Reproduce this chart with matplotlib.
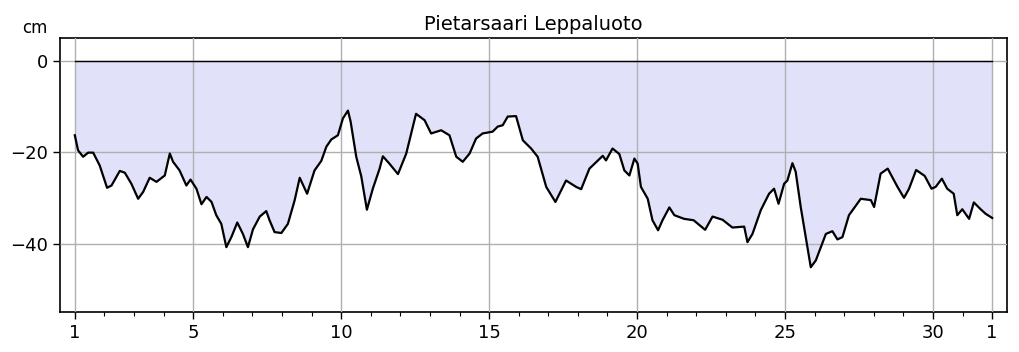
import matplotlib
matplotlib.use("Agg")
import matplotlib.pyplot as plt
from matplotlib.ticker import MultipleLocator

title = "Pietarsaari Leppaluoto"
unit_label = "cm"

# time in days from the start of the month (1 = first day, 32 = first day of next month)
day = [1.00, 1.11, 1.28, 1.45, 1.62, 1.84, 2.09, 2.24, 2.52, 2.69, 2.91, 3.14, 3.31, 3.53,
       3.76, 4.04, 4.21, 4.32, 4.54, 4.77, 4.91, 5.11, 5.28, 5.45, 5.62, 5.78, 5.95, 6.12,
       6.29, 6.49, 6.68, 6.85, 7.02, 7.25, 7.47, 7.58, 7.75, 7.98, 8.20, 8.43, 8.60, 8.85,
       9.10, 9.33, 9.50, 9.67, 9.89, 10.06, 10.23, 10.32, 10.51, 10.68, 10.87, 11.07, 11.30,
       11.41, 11.63, 11.92, 12.20, 12.53, 12.82, 13.04, 13.38, 13.66, 13.89, 14.11, 14.34,
       14.56, 14.78, 15.12, 15.29, 15.46, 15.63, 15.91, 16.14, 16.42, 16.64, 16.93, 17.24,
       17.60, 17.94, 18.11, 18.39, 18.84, 18.95, 19.17, 19.40, 19.57, 19.74, 19.91, 20.02,
       20.13, 20.36, 20.52, 20.71, 20.86, 21.09, 21.26, 21.59, 21.91, 22.30, 22.55, 22.89,
       23.22, 23.62, 23.73, 23.90, 24.18, 24.46, 24.63, 24.78, 24.97, 25.08, 25.25, 25.36,
       25.53, 25.87, 26.04, 26.38, 26.60, 26.77, 26.94, 27.16, 27.56, 27.90, 28.01, 28.23,
       28.47, 28.80, 29.02, 29.19, 29.43, 29.72, 29.95, 30.09, 30.30, 30.48, 30.70, 30.82,
       30.99, 31.22, 31.38, 31.61, 31.78, 32.00]

level_cm = [-16.3, -19.6, -21.0, -20.1, -20.1, -22.9, -27.8, -27.3, -24.1, -24.5, -26.9, -30.2,
            -28.7, -25.6, -26.5, -25.1, -20.3, -22.1, -24.0, -27.3, -26.0, -28.0, -31.4, -29.8,
            -30.9, -33.8, -35.7, -40.8, -38.6, -35.4, -37.9, -40.8, -36.9, -34.1, -32.9, -34.9,
            -37.5, -37.7, -35.7, -30.5, -25.6, -29.1, -24.0, -21.9, -18.8, -17.2, -16.3, -12.6,
            -10.9, -13.3, -21.0, -25.3, -32.6, -28.0, -23.6, -20.9, -22.5, -24.8, -20.3, -11.6,
            -13.0, -15.9, -15.2, -16.3, -21.0, -22.1, -20.3, -17.0, -15.9, -15.5, -14.4, -14.1,
            -12.2, -12.1, -17.4, -19.2, -21.0, -27.6, -30.9, -26.2, -27.6, -28.1, -23.6, -20.8,
            -21.8, -19.2, -20.4, -24.0, -25.1, -21.4, -22.5, -27.6, -30.2, -34.9, -37.1, -34.9,
            -32.1, -33.8, -34.6, -34.9, -37.0, -34.1, -34.8, -36.5, -36.3, -39.7, -37.9, -32.7,
            -29.1, -28.0, -31.3, -26.9, -26.2, -22.4, -24.3, -32.0, -45.2, -43.7, -37.9, -37.3,
            -39.1, -38.6, -33.8, -30.2, -30.5, -32.0, -24.7, -23.6, -27.6, -30.0, -28.0, -23.9,
            -25.2, -28.0, -27.6, -25.8, -28.0, -29.1, -33.8, -32.5, -34.6, -31.0, -32.5, -33.5,
            -34.4]

x_major = [1, 5, 10, 15, 20, 25, 30, 32]
x_labels = ["1", "5", "10", "15", "20", "25", "30", "1"]
y_major = [0, -20, -40]

fig = plt.figure(figsize=(10.19, 3.52), dpi=100)
ax = fig.add_axes([0.0589, 0.1136, 0.9293, 0.7784])

ax.fill_between(day, level_cm, 0, color="#e1e1fa", linewidth=0, zorder=1)
ax.plot([day[0], day[-1]], [0, 0], color="black", linewidth=1.0, zorder=3)
ax.plot(day, level_cm, color="black", linewidth=1.6, zorder=3)

ax.set_xlim(0.5, 32.5)
ax.set_ylim(-55, 5)
ax.set_xticks(x_major)
ax.set_xticklabels(x_labels)
ax.xaxis.set_minor_locator(MultipleLocator(1))
ax.set_yticks(y_major)
ax.tick_params(axis="both", which="major", labelsize=13, length=5, width=1)
ax.tick_params(axis="x", which="minor", length=3, width=0.8)
ax.set_axisbelow(False)
ax.grid(True, which="major", color="#b0b0b0", linewidth=1.0, zorder=2)
for s in ax.spines.values():
    s.set_linewidth(1.2)

ax.set_title(title, fontsize=14, pad=6)
fig.text(35 / 1019, 1 - 28 / 352, unit_label, fontsize=12, ha="center", va="center")

fig.savefig("out.png", dpi=100)
